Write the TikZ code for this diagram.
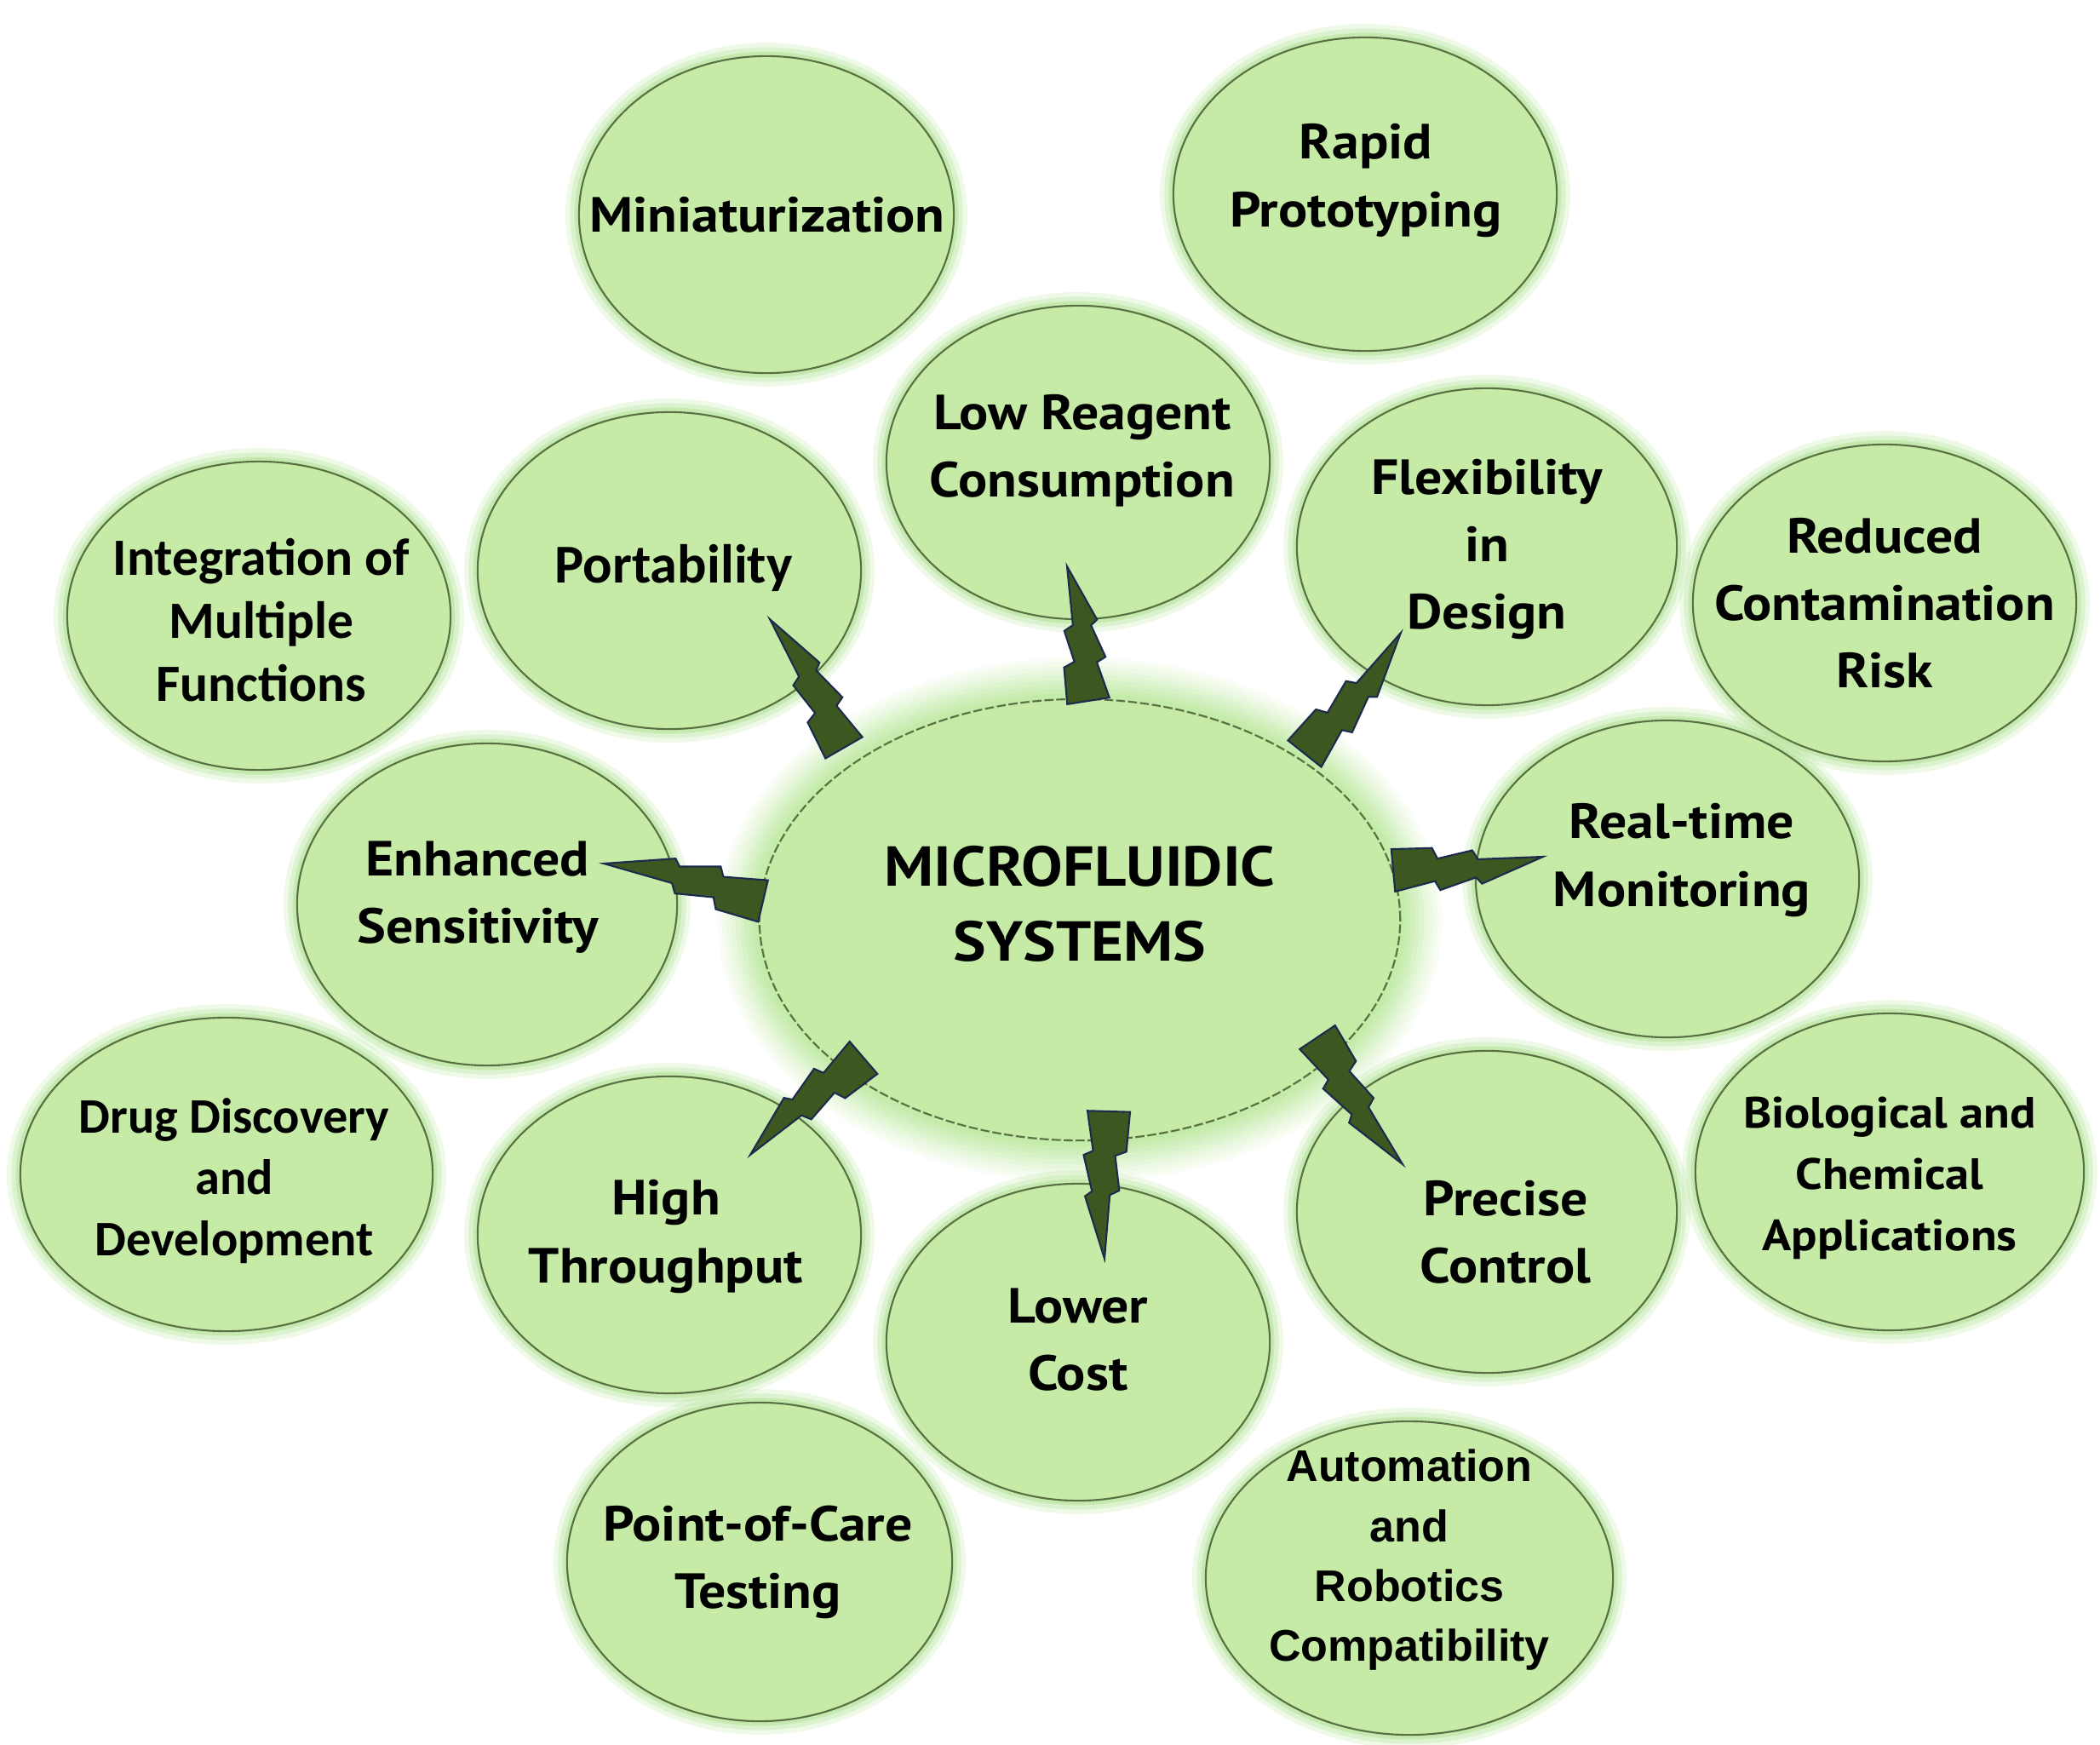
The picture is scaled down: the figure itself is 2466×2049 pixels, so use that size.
\documentclass[tikz,border=0pt]{standalone}
\usepackage{fontspec}
\setmainfont{PT Sans}[FakeStretch=1.1]
\newfontfamily\calfont{Carlito}
\newfontfamily\arfont{Liberation Sans}
\usetikzlibrary{shapes.geometric}
\definecolor{bubfill}{RGB}{197,235,167}
\definecolor{bubline}{RGB}{88,112,66}
\definecolor{glowc}{RGB}{165,222,132}
\definecolor{hubglow}{RGB}{178,230,140}
\definecolor{boltfill}{RGB}{60,87,32}
\definecolor{boltline}{RGB}{28,42,78}
\tikzset{
  bub/.style={ellipse, draw=bubline, line width=0.6pt, fill=bubfill, inner sep=0pt,
    preaction={draw=glowc, line width=9pt, opacity=0.18},
    preaction={draw=glowc, line width=6pt, opacity=0.25},
    preaction={draw=glowc, line width=3pt, opacity=0.4}},
  hub/.style={ellipse, draw=bubline, line width=0.6pt, fill=bubfill, inner sep=0pt,
    preaction={draw=hubglow, solid, line width=28pt, opacity=0.07},
    preaction={draw=hubglow, solid, line width=25pt, opacity=0.08},
    preaction={draw=hubglow, solid, line width=22pt, opacity=0.09},
    preaction={draw=hubglow, solid, line width=19pt, opacity=0.1},
    preaction={draw=hubglow, solid, line width=16pt, opacity=0.12},
    preaction={draw=hubglow, solid, line width=13pt, opacity=0.14},
    preaction={draw=hubglow, solid, line width=10pt, opacity=0.17},
    preaction={draw=hubglow, solid, line width=7pt, opacity=0.2},
    preaction={draw=hubglow, solid, line width=4pt, opacity=0.25},
    postaction={draw=bubfill, solid, line width=0.8pt},
    postaction={draw=bubline, line width=0.6pt, dash pattern=on 3pt off 1pt}},
  lab/.style={align=center, inner sep=0pt, text=black, font=\fontsize{16.5}{22.5}\selectfont\bfseries},
  labc/.style={align=center, inner sep=0pt, text=black, font=\calfont\fontsize{17.5}{21}\selectfont\bfseries},
  laba/.style={align=center, inner sep=0pt, text=black, font=\arfont\fontsize{14.8}{20}\selectfont\bfseries},
  hublab/.style={align=center, inner sep=0pt, text=black, font=\fontsize{18.8}{25}\selectfont\bfseries},
  boltst/.style={fill=boltfill, draw=boltline, line width=0.6pt, line join=miter}
}
\newcommand\zap[2]{%
  \path (#1); \pgfgetlastxy{\zax}{\zay}%
  \path (#2); \pgfgetlastxy{\zbx}{\zby}%
  \pgfmathsetmacro\zang{atan2(\zby-\zay,\zbx-\zax)}%
  \pgfmathsetmacro\zlen{veclen(\zbx-\zax,\zby-\zay)}%
  \begin{scope}[shift={(#1)}, rotate=\zang, x={(\zlen pt,0pt)}, y={(0pt,-0.2845pt)}]
    \draw[boltst] (0,-25) -- (0,25) -- (0.27,17) -- (0.30,28) -- (0.545,17) -- (0.58,25)
      -- (1,0) -- (0.567,-4) -- (0.535,-15) -- (0.30,-9) -- (0.27,-22) -- cycle;
  \end{scope}}
\begin{document}
\begin{tikzpicture}[x=0.01cm, y=-0.01cm]
\useasboundingbox (0,0) rectangle (2466,2049);
\fill[white] (0,0) rectangle (2466,2049);
% satellite ellipses
\node[bub, minimum width=4.40cm, minimum height=3.72cm] (mini) at (900,252) {};
\node[bub, minimum width=4.50cm, minimum height=3.68cm] (rapid) at (1603,228) {};
\node[bub, minimum width=4.50cm, minimum height=3.68cm] (low) at (1266,543) {};
\node[bub, minimum width=4.50cm, minimum height=3.72cm] (port) at (786,670) {};
\node[bub, minimum width=4.46cm, minimum height=3.72cm] (flex) at (1746,642) {};
\node[bub, minimum width=4.50cm, minimum height=3.62cm] (integ) at (304,723) {};
\node[bub, minimum width=4.50cm, minimum height=3.72cm] (reduced) at (2213,708) {};
\node[bub, minimum width=4.46cm, minimum height=3.78cm] (enh) at (572,1062) {};
\node[bub, minimum width=4.50cm, minimum height=3.72cm] (real) at (1958,1032) {};
\node[bub, minimum width=4.84cm, minimum height=3.68cm] (drug) at (266,1379) {};
\node[bub, minimum width=4.50cm, minimum height=3.72cm] (high) at (786,1450) {};
\node[bub, minimum width=4.46cm, minimum height=3.78cm] (precise) at (1746,1423) {};
\node[bub, minimum width=4.56cm, minimum height=3.72cm] (bio) at (2219,1376) {};
\node[bub, minimum width=4.50cm, minimum height=3.72cm] (lower) at (1266,1576) {};
\node[bub, minimum width=4.52cm, minimum height=3.74cm] (poc) at (892,1834) {};
\node[bub, minimum width=4.78cm, minimum height=3.68cm] (auto) at (1655,1853) {};
% hub
\node[hub, minimum width=7.52cm, minimum height=5.18cm] (hubn) at (1268,1080) {};
% labels
\node[lab] (miniT) at (901,252) {Miniaturization};
\node[lab] (rapidT) at (1604,212) {Rapid\\Prototyping};
\node[lab] (lowT) at (1271,529) {Low Reagent\\Consumption};
\node[lab] (flexT) at (1746,645) {Flexibility\\in\\Design};
\node[lab] (reducedT) at (2213,708) {Reduced\\Contamination\\Risk};
\node[labc] (integT) at (307,728) {Integration of\\Multiple\\Functions};
\node[labc, font=\calfont\fontsize{18.3}{21}\selectfont\bfseries] (portT) at (791,667) {Portability};
\node[lab] (enhT) at (561,1054) {Enhanced\\Sensitivity};
\node[lab] (realT) at (1975,1010) {Real-time\\Monitoring};
\node[hublab] (hubT) at (1268,1061) {MICROFLUIDIC\\SYSTEMS};
\node[labc, font=\calfont\fontsize{16.6}{20.5}\selectfont\bfseries] (drugT) at (275,1387) {Drug Discovery\\and\\Development};
\node[lab] (highT) at (782,1452) {High\\Throughput};
\node[lab] (preciseT) at (1768,1447) {Precise\\Control};
\node[lab, font=\fontsize{14.6}{20.5}\selectfont\bfseries] (bioT) at (2219,1383) {Biological and\\Chemical\\Applications};
\node[lab] (lowerT) at (1266,1573) {Lower\\Cost};
\node[lab] (pocT) at (890,1834) {Point-of-Care\\Testing};
\node[laba] (autoT) at (1655,1832) {Automation\\and\\Robotics\\Compatibility};
% bolt end points
\coordinate (b1) at (991,878);  \coordinate (t1) at (904,727);
\coordinate (b2) at (1278,823); \coordinate (t2) at (1253,665);
\coordinate (b3) at (1532,885); \coordinate (t3) at (1645,743);
\coordinate (b4) at (896,1058); \coordinate (t4) at (709,1014);
\coordinate (b5) at (1636,1022); \coordinate (t5) at (1812,1006);
\coordinate (b6) at (1014,1242); \coordinate (t6) at (881,1356);
\coordinate (b7) at (1302,1305); \coordinate (t7) at (1297,1478);
\coordinate (b8) at (1547,1218); \coordinate (t8) at (1647,1367);
\zap{b1}{t1}
\zap{b2}{t2}
\zap{b3}{t3}
\zap{b4}{t4}
\zap{b5}{t5}
\zap{b6}{t6}
\zap{b7}{t7}
\zap{b8}{t8}
\end{tikzpicture}
\end{document}
